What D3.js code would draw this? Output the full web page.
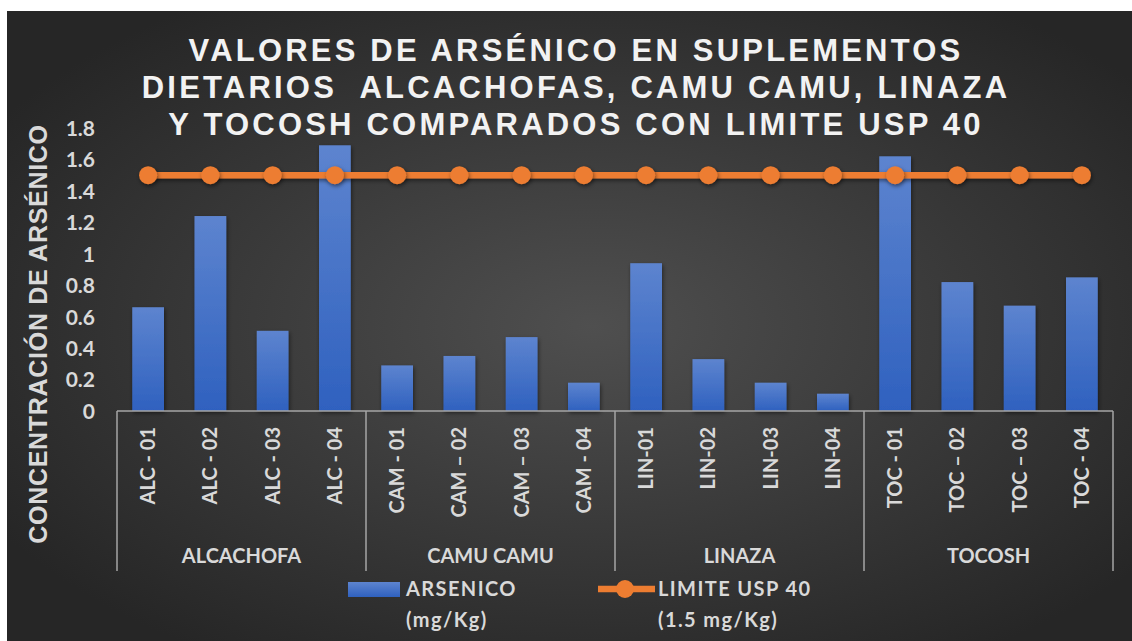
<!DOCTYPE html>
<head>
<meta charset="utf-8">
<script src="https://cdn.jsdelivr.net/npm/d3@7"></script>
<style>
  body { margin: 0; background: #fff; }
  svg { display: block; }
  text { font-family: Lato, "Noto Sans", sans-serif; font-weight: 700; fill: #d9d9d9; }
  .title { font-family: "Liberation Sans", Arial, sans-serif; fill: #f2f2f2; }
</style>
</head>
<body>
<svg></svg>
<script>
var width = 1132, height = 641

// data
var groups = ['ALCACHOFA', 'CAMU CAMU', 'LINAZA', 'TOCOSH']
var samples = ['ALC - 01', 'ALC - 02', 'ALC - 03', 'ALC - 04',
               'CAM - 01', 'CAM \u2013 02', 'CAM \u2013 03', 'CAM - 04',
               'LIN-01', 'LIN-02', 'LIN-03', 'LIN-04',
               'TOC - 01', 'TOC \u2013 02', 'TOC \u2013 03', 'TOC - 04']
var arsenico = [0.66, 1.24, 0.51, 1.69,
                0.29, 0.35, 0.47, 0.18,
                0.94, 0.33, 0.18, 0.11,
                1.62, 0.82, 0.67, 0.85]
var limite = [1.5, 1.5, 1.5, 1.5, 1.5, 1.5, 1.5, 1.5,
              1.5, 1.5, 1.5, 1.5, 1.5, 1.5, 1.5, 1.5]
var yTicks = [0, 0.2, 0.4, 0.6, 0.8, 1, 1.2, 1.4, 1.6, 1.8]
var titleLines = ['VALORES DE ARS\u00c9NICO EN SUPLEMENTOS',
                  'DIETARIOS  ALCACHOFAS, CAMU CAMU, LINAZA',
                  'Y TOCOSH COMPARADOS CON LIMITE USP 40']

var svg = d3.select('svg').attr('width', width).attr('height', height)
var defs = svg.append('defs')

var bg = defs.append('radialGradient').attr('id', 'bg')
  .attr('cx', '52%').attr('cy', '50%').attr('r', '62%')
bg.append('stop').attr('offset', '0%').attr('stop-color', '#4f4f4f')
bg.append('stop').attr('offset', '100%').attr('stop-color', '#262626')

var bar = defs.append('linearGradient').attr('id', 'bar')
  .attr('x1', 0).attr('y1', 0).attr('x2', 0).attr('y2', 1)
bar.append('stop').attr('offset', '0%').attr('stop-color', '#5d84cf')
bar.append('stop').attr('offset', '100%').attr('stop-color', '#2f61bf')

// shadow, in page units so a flat line still gets a filter region
var sh = defs.append('filter').attr('id', 'sh')
  .attr('filterUnits', 'userSpaceOnUse')
  .attr('x', 0).attr('y', 0).attr('width', width).attr('height', height)
sh.append('feDropShadow').attr('dx', 1).attr('dy', 2).attr('stdDeviation', 2)
  .attr('flood-color', '#000').attr('flood-opacity', 0.5)

svg.append('rect').attr('x', 7).attr('y', 11)
  .attr('width', width - 7).attr('height', height - 11)
  .attr('fill', 'url(#bg)')

var x = d3.scaleBand().domain(samples).range([117, 1113])
var y = d3.scaleLinear().domain([0, 1.8]).range([411, 128])

// title
svg.append('g').selectAll('text').data(titleLines).enter().append('text')
  .attr('class', 'title')
  .attr('x', 576).attr('y', function (d, i) { return 61 + i * 37 })
  .attr('text-anchor', 'middle')
  .style('font-size', '31px').style('letter-spacing', '3.2px')
  .style('white-space', 'pre')
  .text(function (d) { return d })

// y axis
var yAxis = svg.append('g')
  .attr('transform', 'translate(95,0)')
  .call(d3.axisLeft(y).tickValues(yTicks).tickSize(0).tickPadding(0)
    .tickFormat(function (d) { return d }))
yAxis.select('.domain').remove()
yAxis.selectAll('text').style('font-size', '21px').attr('dy', '0.35em')
  .attr('font-family', null)

svg.append('text')
  .attr('class', 'title')
  .attr('transform', 'translate(47,334) rotate(-90)')
  .attr('text-anchor', 'middle')
  .style('font-size', '25px').style('letter-spacing', '0.7px').style('fill', '#d9d9d9')
  .text('CONCENTRACI\u00d3N DE ARS\u00c9NICO')

// bars
svg.append('g').selectAll('rect').data(arsenico).enter().append('rect')
  .attr('x', function (d, i) { return x(samples[i]) + x.bandwidth() * 0.245 })
  .attr('width', x.bandwidth() * 0.51)
  .attr('y', function (d) { return y(d) })
  .attr('height', function (d) { return y(0) - y(d) })
  .attr('fill', 'url(#bar)')
  .attr('filter', 'url(#sh)')

// category axis
var xAxis = svg.append('g').attr('stroke', '#a6a6a6').attr('stroke-width', 1.5)
xAxis.append('line').attr('x1', 117).attr('x2', 1113).attr('y1', 411).attr('y2', 411)
var gb = d3.range(groups.length + 1).map(function (i) {
  return i < groups.length ? x(samples[i * 4]) : x(samples[samples.length - 1]) + x.bandwidth()
})
xAxis.selectAll('line.sep').data(gb).enter().append('line').attr('class', 'sep')
  .attr('x1', function (d) { return d }).attr('x2', function (d) { return d })
  .attr('y1', 411).attr('y2', 571)

svg.append('g').selectAll('text').data(samples).enter().append('text')
  .attr('transform', function (d) {
    return 'translate(' + (x(d) + x.bandwidth() / 2 + 7) + ',427) rotate(-90)'
  })
  .attr('text-anchor', 'end')
  .style('font-size', '20px')
  .text(function (d) { return d })

svg.append('g').selectAll('text').data(groups).enter().append('text')
  .attr('x', function (d, i) { return (gb[i] + gb[i + 1]) / 2 })
  .attr('y', 563)
  .attr('text-anchor', 'middle')
  .style('font-size', '20px')
  .text(function (d) { return d })

// limit line
var line = d3.line()
  .x(function (d, i) { return x(samples[i]) + x.bandwidth() / 2 })
  .y(function (d) { return y(d) })
svg.append('path').datum(limite)
  .attr('d', line)
  .attr('fill', 'none').attr('stroke', '#ed7d31').attr('stroke-width', 6.5)
  .attr('filter', 'url(#sh)')
svg.append('g').selectAll('circle').data(limite).enter().append('circle')
  .attr('cx', function (d, i) { return x(samples[i]) + x.bandwidth() / 2 })
  .attr('cy', function (d) { return y(d) })
  .attr('r', 9)
  .attr('fill', '#ed7d31')
  .attr('filter', 'url(#sh)')

// legend
var leg = svg.append('g')
leg.append('rect').attr('x', 348).attr('y', 582).attr('width', 52).attr('height', 15)
  .attr('fill', 'url(#bar)')
leg.append('line').attr('x1', 598).attr('x2', 655).attr('y1', 589).attr('y2', 589)
  .attr('stroke', '#ed7d31').attr('stroke-width', 6.5)
leg.append('circle').attr('cx', 625).attr('cy', 589).attr('r', 9).attr('fill', '#ed7d31')
var legText = [['ARSENICO', '(mg/Kg)', 406], ['LIMITE USP 40', '(1.5 mg/Kg)', 658]]
leg.selectAll('text.a').data(legText).enter().append('text').attr('class', 'a')
  .attr('x', function (d) { return d[2] }).attr('y', 596)
  .style('font-size', '20px').style('letter-spacing', '1.4px')
  .text(function (d) { return d[0] })
leg.selectAll('text.b').data(legText).enter().append('text').attr('class', 'b')
  .attr('x', function (d) { return d[2] }).attr('y', 627)
  .style('font-size', '20px').style('letter-spacing', '1.4px')
  .text(function (d) { return d[1] })
</script>
</body>
